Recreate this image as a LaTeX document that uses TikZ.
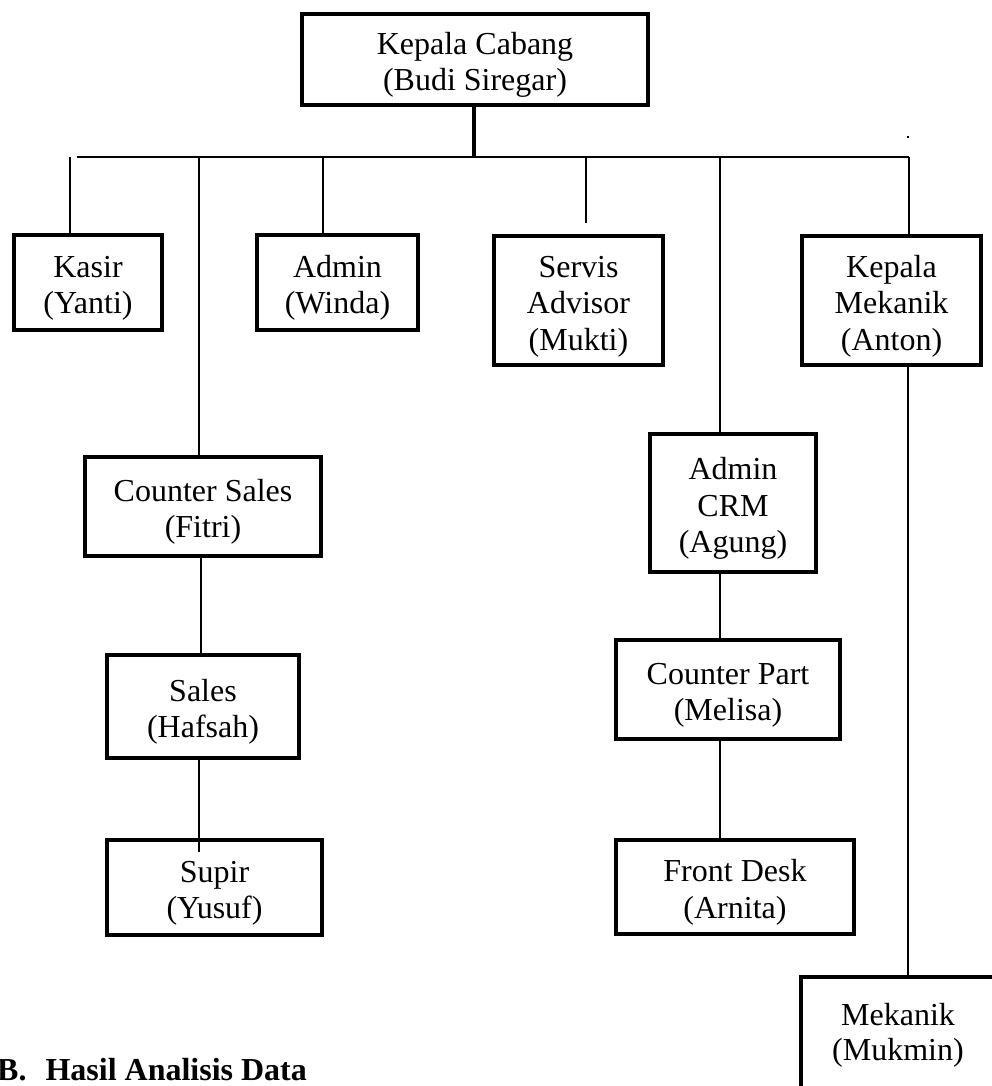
\documentclass[tikz,border=0pt]{standalone}
\usepackage{fontspec}
\setmainfont{Liberation Serif}
\newcommand{\topstrut}{\rule{0pt}{33pt}}
\begin{document}
\begin{tikzpicture}[x=1pt,y=-1pt,
  box/.style={draw, line width=4pt, rectangle, inner sep=0pt, align=center,
    font=\fontsize{32}{36.5}\selectfont},
  lbl/.style={inner sep=0pt, align=center, font=\fontsize{32}{35}\selectfont},
  conn/.style={line width=1.8pt},
  mainconn/.style={line width=4pt}]
\clip (0,0) rectangle (992,1086);
\fill[white] (0,0) rectangle (992,1086);

% boxes
\node[box, minimum width=346pt, minimum height=91pt] (kc) at (475,59.5) {\topstrut Kepala Cabang\\(Budi Siregar)};
\node[box, minimum width=148pt, minimum height=95pt] (kasir) at (88,282.5) {\topstrut Kasir\\(Yanti)};
\node[box, minimum width=161pt, minimum height=95pt] (admin) at (337.5,282.5) {\topstrut Admin\\(Winda)};
\node[box, minimum width=169pt, minimum height=129pt] (sa) at (578.5,300.5) {\topstrut Servis\\Advisor\\(Mukti)};
\node[box, minimum width=179pt, minimum height=129pt] (km) at (891.5,300.5) {\topstrut Kepala\\Mekanik\\(Anton)};
\node[box, minimum width=236pt, minimum height=99pt] (cs) at (203,506.5) {\topstrut Counter Sales\\(Fitri)};
\node[box, minimum width=192pt, minimum height=103pt] (sales) at (203,706.5) {\topstrut Sales\\(Hafsah)};
\node[box, minimum width=215pt, minimum height=95pt] (supir) at (214.5,887.5) {\topstrut Supir\\(Yusuf)};
\node[box, minimum width=166pt, minimum height=138pt] (crm) at (733,503) {\topstrut Admin\\CRM\\(Agung)};
\node[box, minimum width=224pt, minimum height=99pt] (cp) at (728,689.5) {\topstrut Counter Part\\(Melisa)};
\node[box, minimum width=238pt, minimum height=94pt] (fd) at (735,887) {\topstrut Front Desk\\(Arnita)};
\node[draw, line width=4pt, rectangle, inner sep=0pt, minimum width=194pt, minimum height=140pt, anchor=north] (mek) at (898,975) {};
\node[lbl] (mektxt) at (898,1030) {\topstrut Mekanik\\(Mukmin)};

% connector coordinates
\coordinate (hl) at (77,157);
\coordinate (hr) at (909,157);
\coordinate (jk) at (474,157);
\coordinate (ck) at (70,157);
\coordinate (ccs) at (199,157);
\coordinate (cad) at (323,157);
\coordinate (csa) at (586,157);
\coordinate (csaend) at (586,223);
\coordinate (ccrm) at (720,157);
\coordinate (ckm) at (909,157);
\coordinate (supend) at (199,852);

% connectors
\draw[mainconn] (kc.south -| jk) -- (jk);
\draw[conn] (hl) -- (hr);
\draw[conn] (ck) -- (kasir.north -| ck);
\draw[conn] (ccs) -- (cs.north -| ccs);
\draw[conn] (cad) -- (admin.north -| cad);
\draw[conn] (csa) -- (csaend);
\draw[conn] (ccrm) -- (crm.north -| ccrm);
\draw[conn] (ckm) -- (km.north -| ckm);
\draw[conn] (km.south -| 908,0) -- (mek.north -| 908,0);
\draw[conn] (cs.south -| 201,0) -- (sales.north -| 201,0);
\draw[conn] (sales.south -| supend) -- (supend);
\draw[conn] (crm.south -| 720,0) -- (cp.north -| 720,0);
\draw[conn] (cp.south -| 720,0) -- (fd.north -| 720,0);

% stray speck
\fill (907,136) rectangle (909,138);

% heading
\node[anchor=base west, inner sep=0pt, font=\fontsize{32}{36}\selectfont\bfseries] (sec) at (-3,1080) {B.\hspace{19pt}Hasil Analisis Data};
\end{tikzpicture}
\end{document}
